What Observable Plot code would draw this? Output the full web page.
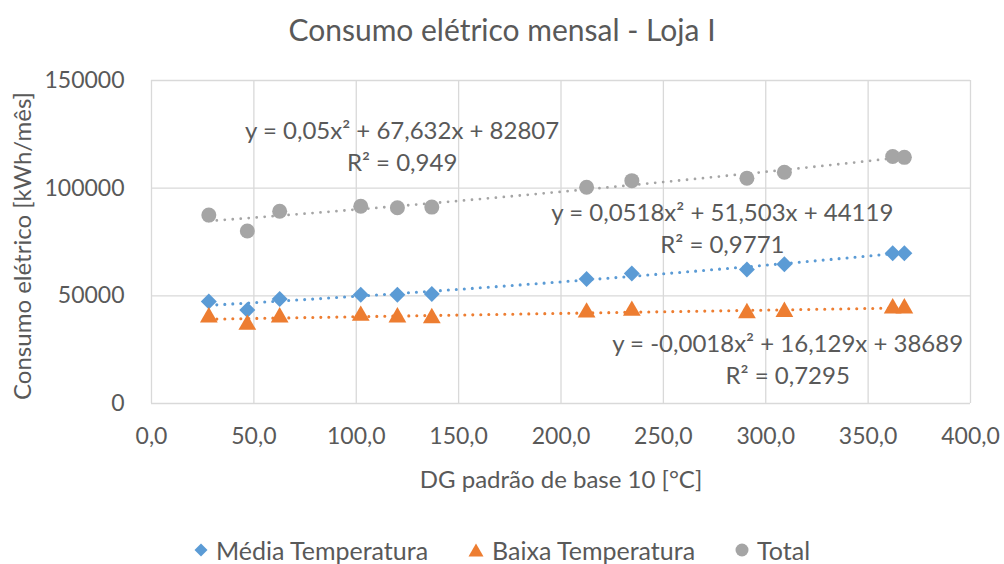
<!DOCTYPE html>
<html><head><meta charset="utf-8">
<script src="https://cdn.jsdelivr.net/npm/d3@7"></script>
<script src="https://cdn.jsdelivr.net/npm/@observablehq/plot@0.6"></script>
<style>
body{margin:0;width:1004px;height:564px;background:#fff;font-family:Lato,"Open Sans",sans-serif;color:#595959;overflow:hidden;position:relative}
#title{height:60px;line-height:58px;text-align:center;font-size:30px;color:#595959}
#chart{height:460px}
#legend{position:absolute;left:0;top:533px;width:1004px;height:34px;display:flex;justify-content:center;align-items:center;font-size:25px;color:#595959}
#legend .item{display:flex;align-items:center;margin:0 20px}
#legend svg{margin-right:8px}
</style></head><body>
<div id="title">Consumo elétrico mensal - Loja I</div>
<div id="chart"></div>
<div id="legend"></div>
<script>
// Data
const dg = [28.0, 46.8, 62.6, 102.2, 120.1, 136.9, 212.5, 234.6, 290.8, 309.1, 362.0, 367.7];
const media = [47400, 43400, 48500, 50500, 50500, 50800, 57800, 60400, 62200, 64700, 69800, 69800];
const baixa = [40000, 36600, 40000, 40800, 40000, 39700, 42300, 43100, 42000, 42600, 44200, 44200];
const total = [87500, 80100, 89300, 91600, 90900, 91200, 100400, 103500, 104600, 107400, 114700, 114300];

const seriesNames = ["Média Temperatura", "Baixa Temperatura", "Total"];
const seriesColors = ["#5B9BD5", "#ED7D31", "#A5A5A5"];
const seriesSymbols = ["diamond2", "triangle", "circle"];

// Trendline coefficients as shown in the chart (a x² + b x + c)
const trendA = [0.0518, -0.0018, 0.05];
const trendB = [51.503, 16.129, 67.632];
const trendC = [44119, 38689, 82807];
const trendLabels = [
  "y = 0,0518x² + 51,503x + 44119\nR² = 0,9771",
  "y = -0,0018x² + 16,129x + 38689\nR² = 0,7295",
  "y = 0,05x² + 67,632x + 82807\nR² = 0,949"
];
// Label anchor points (data units)
const labelDG = [278.8, 310.7, 122.4];
const labelKWh = [81900, 21400, 120300];

const xTicks = [0, 50, 100, 150, 200, 250, 300, 350, 400];
const yTicks = [0, 50000, 100000, 150000];

const seriesValues = [media, baixa, total];
const points = seriesNames.map((s, i) => dg.map((x, j) => ({x, y: seriesValues[i][j], s})));
const lo = d3.min(dg), hi = d3.max(dg);
const trends = seriesNames.map((s, i) => d3.range(0, 81).map(k => {
  const x = lo + (hi - lo) * k / 80;
  return {x, y: trendA[i] * x * x + trendB[i] * x + trendC[i], s};
}));
const labels = trendLabels.map((t, i) => ({x: labelDG[i], y: labelKWh[i], t}));

const txt = "#595959";
const grid = "#d9d9d9";
const radii = [7.2, 6.6, 7.5];

const marks = [
  Plot.gridX(xTicks, {stroke: grid, strokeOpacity: 1, strokeWidth: 1.3}),
  Plot.gridY(yTicks, {stroke: grid, strokeOpacity: 1, strokeWidth: 1.3}),
  Plot.axisX(xTicks, {tickSize: 0, tickPadding: 24, tickFormat: d => d.toFixed(1).replace(".", ","), fill: txt, fontSize: 23, label: null}),
  Plot.axisY(yTicks, {tickSize: 0, tickPadding: 27, tickFormat: d => String(d), fill: txt, fontSize: 23, label: null}),
];
seriesNames.forEach((s, i) => {
  marks.push(Plot.line(trends[i], {x: "x", y: "y", stroke: seriesColors[i], strokeWidth: i === 2 ? 2.8 : 3.1, strokeDasharray: "0 8", strokeLinecap: "round"}));
});
seriesNames.forEach((s, i) => {
  marks.push(Plot.dot(points[i], {x: "x", y: "y", symbol: () => seriesSymbols[i], fill: seriesColors[i], stroke: "none", r: radii[i]}));
});
marks.push(Plot.text(labels, {x: "x", y: "y", text: "t", fill: txt, fontSize: 24, lineHeight: 1.33, textAnchor: "middle", lineAnchor: "middle"}));
marks.push(Plot.text(["DG padrão de base 10 [°C]"], {frameAnchor: "bottom", dy: 77, fill: txt, fontSize: 24, textAnchor: "middle", lineAnchor: "middle"}));
marks.push(Plot.text(["Consumo elétrico [kWh/mês]"], {frameAnchor: "left", dx: -128, dy: 4, rotate: -90, fill: txt, fontSize: 24, textAnchor: "middle", lineAnchor: "middle"}));

const chart = Plot.plot({
  width: 1004,
  height: 460,
  marginLeft: 151,
  marginRight: 34,
  marginTop: 20,
  marginBottom: 117,
  x: {domain: [0, 400]},
  y: {domain: [0, 150000]},
  symbol: {type: "identity"},
  style: {fontFamily: "Lato, 'Open Sans', sans-serif", color: txt, background: "#fff", overflow: "visible"},
  marks
});
document.getElementById("chart").appendChild(chart);

// Legend
const leg = document.getElementById("legend");
const legendShapes = [
  c => `<svg width="14" height="14" viewBox="-7 -7 14 14"><path d="M0,-6.5L6.5,0L0,6.5L-6.5,0Z" fill="${c}"/></svg>`,
  c => `<svg width="16" height="14" viewBox="-8 -7 16 14"><path d="M0,-6.5L7.5,6.5L-7.5,6.5Z" fill="${c}"/></svg>`,
  c => `<svg width="14" height="14" viewBox="-7 -7 14 14"><circle r="6.5" fill="${c}"/></svg>`
];
seriesNames.forEach((s, i) => {
  const d = document.createElement("div");
  d.className = "item";
  d.innerHTML = legendShapes[i](seriesColors[i]) + `<span>${s}</span>`;
  leg.appendChild(d);
});
</script>
</body></html>
